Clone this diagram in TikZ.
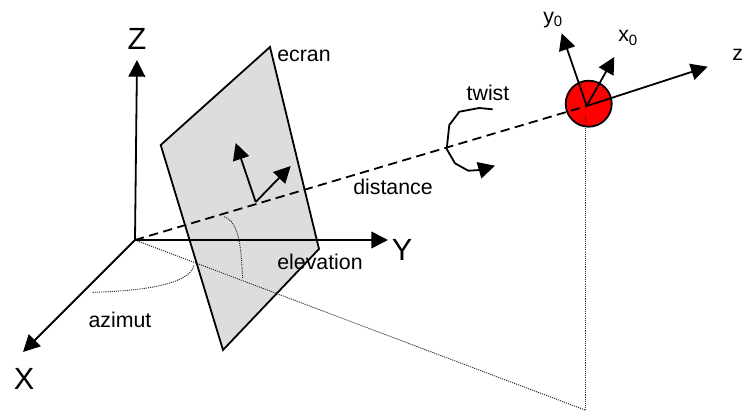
\documentclass[tikz,border=0pt]{standalone}
\usepackage{fontspec}
\setmainfont{Liberation Sans}
\usetikzlibrary{arrows.meta, positioning}
\definecolor{ecranGray}{HTML}{DDDDDD}
\definecolor{sphereRed}{HTML}{FF0000}

\begin{document}
\begin{tikzpicture}[
  x=0.75pt, y=-0.75pt,
  label/.style={inner sep=0pt, font=\fontsize{16pt}{18pt}\selectfont},
  axislabel/.style={inner sep=0pt, font=\fontsize{23pt}{26pt}\selectfont},
  a/.style={-{Triangle[length=12.5pt, width=12.5pt]}, line width=1.35pt},
  edge/.style={line width=1.35pt},
  dashline/.style={line width=1.35pt, dash pattern=on 7pt off 4pt},
  dotline/.style={line width=0.7pt, dash pattern=on 0.8pt off 0.8pt, draw=black!85}
]
\useasboundingbox (0,0) rectangle (743,412);
\coordinate (origin) at (135,240);
\coordinate (zend) at (137,60);
\coordinate (yend) at (388,240);
\coordinate (xend) at (23,352);
\coordinate (foot) at (585,410);
\coordinate (hub) at (586.7,106);
% ecran
\draw[edge, fill=ecranGray] (270,47) -- (160.7,145) -- (223,350) -- (319,249) -- cycle;
\coordinate (screen) at (255.7,202);
% dotted construction lines
\node[circle, draw, line width=1.35pt, fill=sphereRed, minimum size=34.5pt, inner sep=0pt] (sphere) at (588.7,103.7) {};
\draw[dotline] (origin) -- (foot);
\draw[dotline] (585,115) -- (foot);
\draw[dotline] (92.7,292.3) .. controls (140,291) and (190,285) .. (194,265);
\draw[dotline] (224,216.7) .. controls (240,222) and (241,250) .. (242.7,278);
% axes
\draw[a] (origin) -- (zend);
\draw[a] (origin) -- (yend);
\draw[a] (origin) -- (xend);
\draw[dashline] (origin) -- (hub);
\draw[a] (screen) -- (235.7,143);
\draw[a] (screen) -- (290.7,166);
\draw[a] (hub) -- (561.7,33.3);
\draw[a] (hub) -- (614.3,57);
\draw[a] (hub) -- (707.7,66.7);
% twist
\draw[a] (492.7,109.3) -- (479.3,108) -- (459.3,111.7) -- (449.3,125) -- (446.7,149) -- (455,163.3) -- (468.3,170.7) -- (480,170) -- (495,165.7);
\node[axislabel] (zlabel) at (137,39) {Z};
\node[axislabel] (ylabel) at (402,250) {Y};
\node[axislabel] (xlabel) at (24,379) {X};
\node[label] (ecran) at (304,56) {ecran};
\node[label] (elevation) at (320,262) {elevation};
\node[label] (distance) at (393,187) {distance};
\node[label] (twist) at (488,93) {twist};
\node[label] (azimut) at (120,320) {azimut};
\node[label, anchor=west] (yzero) at (543,20) {y\textsubscript{0}};
\node[label, anchor=west] (xzero) at (618,38) {x\textsubscript{0}};
\node[label, anchor=west] (zzero) at (732,57) {z\textsubscript{0}};
\end{tikzpicture}
\end{document}
